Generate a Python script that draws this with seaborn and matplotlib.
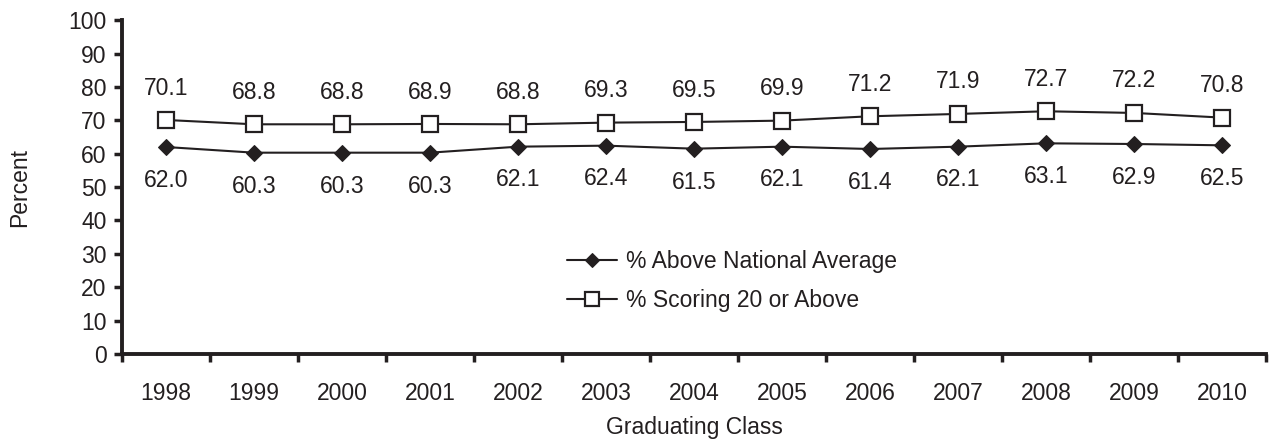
import pandas as pd
import matplotlib.pyplot as plt
import seaborn as sns

# Chart data
years = ["1998", "1999", "2000", "2001", "2002", "2003", "2004",
         "2005", "2006", "2007", "2008", "2009", "2010"]
above_national = [62.0, 60.3, 60.3, 60.3, 62.1, 62.4, 61.5, 62.1, 61.4, 62.1, 63.1, 62.9, 62.5]
scoring_20 = [70.1, 68.8, 68.8, 68.9, 68.8, 69.3, 69.5, 69.9, 71.2, 71.9, 72.7, 72.2, 70.8]
y_ticks = list(range(0, 101, 10))

ink = "#231f20"
fs = 16.5

sns.set_style("white")
plt.rcParams["font.family"] = ["Liberation Sans", "DejaVu Sans"]
plt.rcParams["text.color"] = ink
plt.rcParams["axes.labelcolor"] = ink
plt.rcParams["xtick.color"] = ink
plt.rcParams["ytick.color"] = ink

df = pd.DataFrame({"Year": years,
                   "% Above National Average": above_national,
                   "% Scoring 20 or Above": scoring_20})

fig = plt.figure(figsize=(12.7, 4.47), dpi=100)
ax = fig.add_axes([0.096, 0.208, 0.901, 0.747])

sns.lineplot(data=df, x="Year", y="% Above National Average", ax=ax, sort=False,
             color=ink, linewidth=1.5, marker="D", markersize=8,
             markerfacecolor=ink, markeredgecolor=ink, label="% Above National Average")
sns.lineplot(data=df, x="Year", y="% Scoring 20 or Above", ax=ax, sort=False,
             color=ink, linewidth=1.5, marker="s", markersize=11,
             markerfacecolor="white", markeredgecolor=ink, markeredgewidth=1.6,
             label="% Scoring 20 or Above")

# Value labels
for i, (lo, hi) in enumerate(zip(above_national, scoring_20)):
    ax.annotate(f"{hi:.1f}", (i, hi), xytext=(0, 23), textcoords="offset points",
                ha="center", va="center", fontsize=fs)
    ax.annotate(f"{lo:.1f}", (i, lo), xytext=(0, -24), textcoords="offset points",
                ha="center", va="center", fontsize=fs)

ax.set_xlim(-0.5, len(years) - 0.5)
ax.set_ylim(0, 100)
ax.set_yticks(y_ticks)
ax.set_xticks(range(len(years)))
ax.set_xticklabels(years)
ax.set_xticks([i - 0.5 for i in range(len(years) + 1)], minor=True)
ax.tick_params(axis="x", which="major", bottom=True, length=0, pad=20, labelsize=fs)
ax.tick_params(axis="x", which="minor", bottom=True, length=6, width=2.5, direction="out")
ax.tick_params(axis="y", left=True, length=6, width=2.5, direction="out", labelsize=fs, pad=5)

for side in ["top", "right"]:
    ax.spines[side].set_visible(False)
for side in ["left", "bottom"]:
    ax.spines[side].set_linewidth(2.8)
    ax.spines[side].set_color(ink)

ax.set_xlabel("Graduating Class", fontsize=fs, labelpad=8)
ax.set_ylabel("Percent", fontsize=fs, labelpad=27)

leg = ax.legend(loc="center left", bbox_to_anchor=(0.371, 0.22), frameon=False,
                fontsize=fs, handlelength=2.2, handletextpad=0.35, labelspacing=0.7)
for h in leg.legend_handles:
    h.set_markersize(h.get_markersize() * 0.9)

plt.savefig("out.png", dpi=100)
